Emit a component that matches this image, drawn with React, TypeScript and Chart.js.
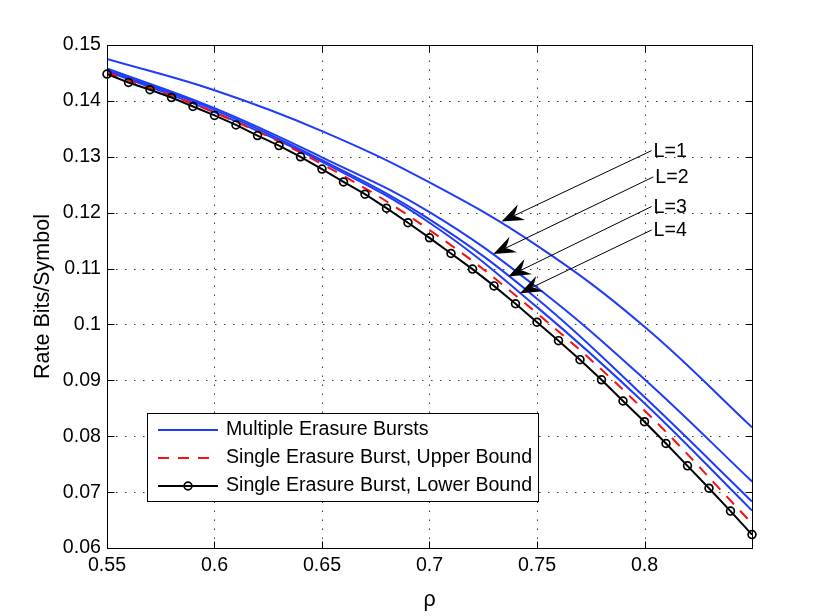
import React, { useEffect, useRef } from "react";
import { Chart, registerables } from "chart.js";

Chart.register(...registerables);

const FONT = "'Liberation Sans', Arial, Helvetica, sans-serif";

// ---- axis ticks ----
const X_TICKS = [0.55, 0.6, 0.65, 0.7, 0.75, 0.8];
const X_GRID = [0.55, 0.6, 0.65, 0.7, 0.75, 0.8, 0.85];
const Y_TICKS = [0.06, 0.07, 0.08, 0.09, 0.1, 0.11, 0.12, 0.13, 0.14, 0.15];

// ---- Single erasure burst, lower bound (black, circles) ----
const RHO_LOWER = [
  0.55, 0.56, 0.57, 0.58, 0.59, 0.6, 0.61, 0.62, 0.63, 0.64, 0.65, 0.66, 0.67,
  0.68, 0.69, 0.7, 0.71, 0.72, 0.73, 0.74, 0.75, 0.76, 0.77, 0.78, 0.79, 0.8,
  0.81, 0.82, 0.83, 0.84, 0.85,
];
const RATE_LOWER = [
  0.1448, 0.1433, 0.142, 0.1406, 0.139, 0.1374, 0.1357, 0.1338, 0.132, 0.13,
  0.1278, 0.1255, 0.1233, 0.1208, 0.1182, 0.1155, 0.1127, 0.1099, 0.1069,
  0.1037, 0.1004, 0.0971, 0.0937, 0.0901, 0.0863, 0.0826, 0.0787, 0.0747,
  0.0707, 0.0666, 0.0624,
];

// ---- common rho grid for the smooth curves ----
const RHO_CURVE = [0.55, 0.6, 0.65, 0.7, 0.75, 0.8, 0.85];

// ---- Single erasure burst, upper bound (red dashed) ----
const RATE_UPPER = [0.1451, 0.1379, 0.1287, 0.1169, 0.102, 0.0846, 0.0644];

// ---- Multiple erasure bursts (blue), L = 1..4 ----
const RATE_L1 = [0.1475, 0.1419, 0.1346, 0.1254, 0.1141, 0.0996, 0.0816];
const RATE_L2 = [0.1458, 0.1387, 0.1299, 0.1201, 0.1066, 0.0902, 0.0719];
const RATE_L3 = [0.1455, 0.1384, 0.1294, 0.1188, 0.1046, 0.087, 0.0683];
const RATE_L4 = [0.1453, 0.138, 0.1291, 0.1182, 0.1031, 0.0859, 0.0667];

const SERIES_LABELS = [
  "Multiple Erasure Bursts",
  "Single Erasure Burst, Upper Bound",
  "Single Erasure Burst, Lower Bound",
];

// ---- annotation arrows (data coordinates) ----
const ARROW_LABELS = ["L=1", "L=2", "L=3", "L=4"];
const ARROW_TAIL_RHO = [0.8033, 0.8041, 0.8033, 0.8033];
const ARROW_TAIL_RATE = [0.1311, 0.1264, 0.1211, 0.1169];
const ARROW_TIP_RHO = [0.7335, 0.7297, 0.7367, 0.7421];
const ARROW_TIP_RATE = [0.1184, 0.1126, 0.1086, 0.1056];

const BLUE = "rgb(30,60,250)";
const RED = "rgb(250,15,15)";
const BLACK = "#000";
const TICK_SIZE = 19.6;
const TITLE_SIZE = 21.5;

const pts = (xs: number[], ys: number[]) => xs.map((x, i) => ({ x, y: ys[i] }));
const fmt = (v: number) => String(Number(v.toFixed(2)));

function drawArrow(ctx: CanvasRenderingContext2D, x0: number, y0: number, x1: number, y1: number) {
  const ang = Math.atan2(y1 - y0, x1 - x0);
  const ux = Math.cos(ang), uy = Math.sin(ang);
  const px = -uy, py = ux;
  const L = 22, W = 8.5, N = 13;
  ctx.beginPath();
  ctx.moveTo(x0, y0);
  ctx.lineTo(x1 - ux * N, y1 - uy * N);
  ctx.stroke();
  ctx.beginPath();
  ctx.moveTo(x1, y1);
  ctx.lineTo(x1 - ux * L + px * W, y1 - uy * L + py * W);
  ctx.quadraticCurveTo(x1 - ux * (N + 2), y1 - uy * (N + 2), x1 - ux * N, y1 - uy * N);
  ctx.quadraticCurveTo(x1 - ux * (N + 2), y1 - uy * (N + 2), x1 - ux * L - px * W, y1 - uy * L - py * W);
  ctx.closePath();
  ctx.fill();
}

const framePlugin = {
  id: "matlabFrame",
  beforeDatasetsDraw(chart: any) {
    const { ctx, chartArea: a, scales } = chart;
    const x = scales.x, y = scales.y;
    ctx.save();
    ctx.strokeStyle = "#3c3c3c";
    ctx.lineWidth = 1;
    ctx.setLineDash([1.5, 7.5]);
    for (const v of X_GRID) {
      const p = Math.round(x.getPixelForValue(v)) + 0.5;
      if (p <= a.left + 2 || p >= a.right - 2) continue;
      ctx.beginPath();
      ctx.moveTo(p, a.bottom);
      ctx.lineTo(p, a.top);
      ctx.stroke();
    }
    for (const v of Y_TICKS) {
      const p = Math.round(y.getPixelForValue(v)) + 0.5;
      if (p <= a.top + 2 || p >= a.bottom - 2) continue;
      ctx.beginPath();
      ctx.moveTo(a.left, p);
      ctx.lineTo(a.right, p);
      ctx.stroke();
    }
    ctx.restore();
  },
  afterDatasetsDraw(chart: any) {
    const { ctx, chartArea: a, scales } = chart;
    const x = scales.x, y = scales.y;
    ctx.save();
    ctx.setLineDash([]);
    ctx.strokeStyle = "#000";
    ctx.lineWidth = 1;
    const L = Math.round(a.left) + 0.5, R = Math.round(a.right) + 0.5;
    const T = Math.round(a.top) + 0.5, B = Math.round(a.bottom) + 0.5;
    ctx.strokeRect(L, T, R - L, B - T);
    const tl = 7;
    ctx.beginPath();
    for (const v of X_GRID) {
      const p = Math.round(x.getPixelForValue(v)) + 0.5;
      ctx.moveTo(p, B); ctx.lineTo(p, B - tl);
      ctx.moveTo(p, T); ctx.lineTo(p, T + tl);
    }
    for (const v of Y_TICKS) {
      const p = Math.round(y.getPixelForValue(v)) + 0.5;
      ctx.moveTo(L, p); ctx.lineTo(L + tl, p);
      ctx.moveTo(R, p); ctx.lineTo(R - tl, p);
    }
    ctx.stroke();

    // arrows + labels
    ctx.fillStyle = "#000";
    ctx.lineWidth = 1;
    ctx.font = `${TICK_SIZE}px ${FONT}`;
    ctx.textAlign = "left";
    ctx.textBaseline = "middle";
    ARROW_LABELS.forEach((lab, i) => {
      const x0 = x.getPixelForValue(ARROW_TAIL_RHO[i]);
      const y0 = y.getPixelForValue(ARROW_TAIL_RATE[i]);
      const x1 = x.getPixelForValue(ARROW_TIP_RHO[i]);
      const y1 = y.getPixelForValue(ARROW_TIP_RATE[i]);
      drawArrow(ctx, x0, y0, x1, y1);
      ctx.fillText(lab, x0 + 2, y0 + 1);
    });

    // legend box
    const bx = 147.5, by = 413.5, bw = 391, bh = 88;
    ctx.fillStyle = "#fff";
    ctx.fillRect(bx, by, bw, bh);
    ctx.strokeStyle = "#000";
    ctx.strokeRect(bx, by, bw, bh);
    const rows = [430, 458, 486];
    const sx0 = 158, sx1 = 218, tx = 226;
    const ds = chart.data.datasets;
    const legendIdx = [2, 1, 0]; // blue, red, black datasets
    legendIdx.forEach((di, r) => {
      const d = ds[di];
      const yy = rows[r];
      ctx.save();
      ctx.strokeStyle = d.borderColor;
      ctx.lineWidth = d.borderWidth;
      ctx.setLineDash(d.borderDash || []);
      ctx.beginPath();
      ctx.moveTo(sx0, yy);
      ctx.lineTo(sx1, yy);
      ctx.stroke();
      if (d.pointRadius > 0) {
        ctx.setLineDash([]);
        ctx.lineWidth = d.pointBorderWidth;
        ctx.beginPath();
        ctx.arc((sx0 + sx1) / 2, yy, d.pointRadius, 0, Math.PI * 2);
        ctx.stroke();
      }
      ctx.restore();
      ctx.fillStyle = "#000";
      ctx.font = `${TICK_SIZE}px ${FONT}`;
      ctx.textAlign = "left";
      ctx.textBaseline = "middle";
      ctx.fillText(SERIES_LABELS[r], tx, yy);
    });
    ctx.restore();
  },
};

export default function App() {
  const ref = useRef<HTMLCanvasElement | null>(null);
  useEffect(() => {
    if (!ref.current) return;
    const blue = (ys: number[], label: string) => ({
      label,
      data: pts(RHO_CURVE, ys),
      borderColor: BLUE,
      borderWidth: 2,
      pointRadius: 0,
      tension: 0.4,
      fill: false,
    });
    const chart = new Chart(ref.current, {
      type: "line",
      data: {
        datasets: [
          {
            label: SERIES_LABELS[2],
            data: pts(RHO_LOWER, RATE_LOWER),
            borderColor: BLACK,
            borderWidth: 2,
            pointRadius: 3.9,
            pointBorderWidth: 1.7,
            pointBackgroundColor: "rgba(0,0,0,0)",
            pointBorderColor: BLACK,
            tension: 0,
            fill: false,
            clip: false,
          } as any,
          {
            label: SERIES_LABELS[1],
            data: pts(RHO_CURVE, RATE_UPPER),
            borderColor: RED,
            borderWidth: 2,
            borderDash: [11, 9],
            pointRadius: 0,
            tension: 0.4,
            fill: false,
          } as any,
          blue(RATE_L1, SERIES_LABELS[0]),
          blue(RATE_L2, "L=2"),
          blue(RATE_L3, "L=3"),
          blue(RATE_L4, "L=4"),
        ],
      },
      options: {
        responsive: false,
        animation: false,
        devicePixelRatio: 1,
        layout: { padding: { top: 45, right: 78, left: 0, bottom: 0 } },
        plugins: { legend: { display: false }, tooltip: { enabled: false } },
        scales: {
          x: {
            type: "linear",
            min: 0.55,
            max: 0.85,
            afterBuildTicks: (s: any) => {
              s.ticks = X_TICKS.map((v) => ({ value: v }));
            },
            afterFit: (s: any) => {
              s.height = 68;
            },
            grid: { display: false, drawTicks: false },
            border: { display: false },
            ticks: {
              color: "#000",
              padding: 6,
              maxRotation: 0,
              autoSkip: false,
              font: { family: FONT, size: TICK_SIZE },
              callback: (v: any) => fmt(Number(v)),
            },
            title: {
              display: true,
              text: "ρ",
              color: "#000",
              padding: { top: 0, bottom: 3 },
              font: { family: FONT, size: TITLE_SIZE },
            },
          },
          y: {
            type: "linear",
            min: 0.06,
            max: 0.15,
            afterBuildTicks: (s: any) => {
              s.ticks = Y_TICKS.map((v) => ({ value: v }));
            },
            afterFit: (s: any) => {
              s.width = 107;
            },
            grid: { display: false, drawTicks: false },
            border: { display: false },
            ticks: {
              color: "#000",
              padding: 6,
              autoSkip: false,
              font: { family: FONT, size: TICK_SIZE },
              callback: (v: any) => fmt(Number(v)),
            },
            title: {
              display: true,
              text: "Rate Bits/Symbol",
              color: "#000",
              padding: { top: 30, bottom: 0 },
              font: { family: FONT, size: TITLE_SIZE },
            },
          },
        },
      },
      plugins: [framePlugin],
    });
    return () => chart.destroy();
  }, []);

  return (
    <div style={{ position: "absolute", left: 0, top: 0, width: 830, height: 616, background: "#fff" }}>
      <canvas ref={ref} width={830} height={616} style={{ width: 830, height: 616, display: "block" }} />
    </div>
  );
}
